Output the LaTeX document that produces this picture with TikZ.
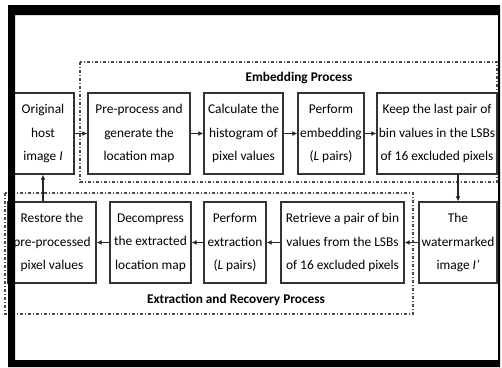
\documentclass[tikz,border=0pt]{standalone}
\usepackage{fontspec}
\setmainfont{Carlito}
\usetikzlibrary{arrows.meta}
\begin{document}
\begin{tikzpicture}[x=1pt,y=-1pt,
  box/.style={draw=black!80,line width=1.4pt,align=center,inner sep=1pt,
    minimum height=81pt,font=\fontsize{13.4}{23.5}\selectfont,fill=white},
  arr/.style={-{Latex[length=5pt,width=5pt]},line width=1.2pt,black!85},
  region/.style={draw=black!70,line width=1.3pt,dash pattern=on 3pt off 2pt on 1pt off 2pt},
  lbl/.style={font=\fontsize{13.3}{15}\selectfont\bfseries}]
\useasboundingbox (0,0) rectangle (502,367);
\fill[white] (0,0) rectangle (502,367);
% process regions
\draw[region] (80,62) rectangle (497,182);
\draw[region] (5,193) rectangle (413,314);
\node[lbl] (emb) at (299,78) {Embedding Process};
\node[lbl] (ext) at (236,300) {Extraction and Recovery Process};
% top row
\node[box,minimum width=62pt] (orig) at (43,133.5) {Original\\host\\image \textit{I}};
\node[box,minimum width=102pt] (pre) at (139,133.5) {Pre-process and\\generate the\\location map};
\node[box,minimum width=79pt] (calc) at (243.5,133.5) {Calculate the\\histogram of\\pixel values};
\node[box,minimum width=66pt] (perf) at (331,133.5) {Perform\\embedding\\(\textit{L} pairs)};
\node[box,minimum width=120pt] (keep) at (437,133.5) {Keep the last pair of\\bin values in the LSBs\\of 16 excluded pixels};
% bottom row
\node[box,minimum width=88pt] (rest) at (52,242.5) {Restore the\\pre-processed\\pixel values};
\node[box,minimum width=81pt] (dec) at (150.5,242.5) {Decompress\\the extracted\\location map};
\node[box,minimum width=62pt] (pext) at (235,242.5) {Perform\\extraction\\(\textit{L} pairs)};
\node[box,minimum width=123pt] (retr) at (342.5,242.5) {Retrieve a pair of bin\\values from the LSBs\\of 16 excluded pixels};
\node[box,minimum width=78pt] (wm) at (458,242.5) {The\\watermarked\\image \textit{I'}};
% connectors
\draw[arr] (orig) -- (pre);
\draw[arr] (pre) -- (calc);
\draw[arr] (calc) -- (perf);
\draw[arr] (perf) -- (keep);
\draw[arr] (wm.north |- keep.south) -- (wm.north);
\draw[arr] (wm) -- (retr);
\draw[arr] (retr) -- (pext);
\draw[arr] (pext) -- (dec);
\draw[arr] (dec) -- (rest);
\draw[arr] (rest.north -| orig.south) -- (orig.south);
% outer frame
\fill[black,even odd rule] (8,5) rectangle (500,367) (15,15) rectangle (498,360);
\end{tikzpicture}
\end{document}
